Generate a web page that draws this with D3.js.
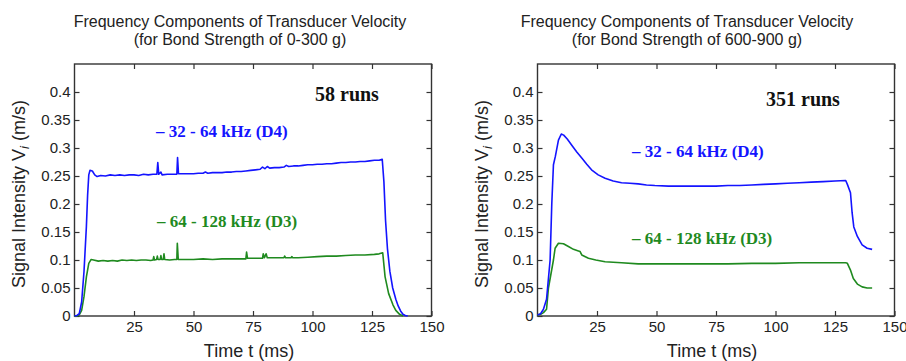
<!DOCTYPE html>
<html>
<head>
<meta charset="utf-8">
<script src="https://cdn.jsdelivr.net/npm/d3@7"></script>
<style>
  html, body { margin: 0; padding: 0; background: #fff; }
  svg { display: block; }
</style>
</head>
<body>
<div id="chart"></div>
<script>
// ---- data (t in ms, v in m/s) ----
const yTicks = [0, 0.05, 0.1, 0.15, 0.2, 0.25, 0.3, 0.35, 0.4];
const xTicks = [25, 50, 75, 100, 125, 150];

const titlesLeft = ["Frequency Components of Transducer Velocity", "(for Bond Strength of 0-300 g)"];
const titlesRight = ["Frequency Components of Transducer Velocity", "(for Bond Strength of 600-900 g)"];
const runsLabels = ["58 runs", "351 runs"];
const bandLabels = ["\u2013 32 - 64 kHz (D4)", "\u2013 64 - 128 kHz (D3)"];

// 0-300 g, 32-64 kHz (D4)
const leftD4 = [[0,0],[1,0.001],[2,0.004],[3,0.025],[4,0.08],[5,0.16],[5.5,0.215],[6,0.252],[6.5,0.26],[7.5,0.259],
  [8.5,0.252],[9.5,0.249],[11,0.251],[13,0.25],[15,0.252],[17,0.251],[19,0.252],[21,0.251],[23,0.252],[25,0.252],
  [27,0.251],[29,0.253],[31,0.252],[33,0.253],[34.6,0.253],[35,0.274],[35.4,0.253],[36.3,0.257],[36.8,0.252],[39,0.253],
  [41,0.253],[43,0.253],[43.3,0.283],[43.7,0.254],[46,0.254],[48,0.254],[50,0.254],[52,0.255],[54,0.255],[55,0.257],
  [56,0.255],[58,0.256],[60,0.256],[62,0.256],[64,0.257],[66,0.257],[68,0.258],[70,0.258],[72,0.259],[74,0.26],
  [76,0.261],[78,0.262],[79,0.266],[80,0.263],[81,0.267],[82,0.264],[84,0.265],[86,0.265],[88,0.266],[89,0.269],
  [90,0.267],[92,0.268],[94,0.268],[96,0.269],[98,0.27],[100,0.27],[102,0.271],[104,0.271],[106,0.272],[108,0.272],
  [110,0.273],[112,0.274],[114,0.274],[116,0.275],[118,0.275],[120,0.276],[122,0.276],[124,0.277],[126,0.278],
  [128,0.278],[129.3,0.28],[130,0.24],[130.7,0.17],[131.5,0.12],[132.5,0.08],[133.7,0.05],[135,0.03],[136,0.018],
  [137,0.009],[138,0.003],[139,0.001],[140,0]];

// 0-300 g, 64-128 kHz (D3)
const leftD3 = [[0,0],[1,0],[2,0.002],[3,0.01],[4,0.035],[5,0.07],[6,0.094],[7,0.101],[8,0.1],[10,0.098],
  [12,0.099],[14,0.098],[16,0.099],[18,0.098],[20,0.1],[22,0.099],[24,0.1],[26,0.099],[28,0.1],[30,0.1],
  [32,0.099],[33,0.1],[33.3,0.106],[33.6,0.1],[34.5,0.101],[34.8,0.107],[35.1,0.101],[36,0.101],[36.3,0.108],
  [36.6,0.101],[37.3,0.101],[37.6,0.111],[37.9,0.101],[40,0.1],[42,0.101],[43,0.101],[43.2,0.13],[43.6,0.101],
  [46,0.101],[50,0.101],[54,0.102],[58,0.101],[62,0.102],[66,0.102],[70,0.102],[72,0.102],[72.3,0.114],
  [72.7,0.103],[76,0.103],[79,0.103],[79.3,0.111],[79.8,0.104],[80.5,0.111],[81,0.104],[84,0.104],[88,0.104],
  [88.3,0.107],[88.7,0.104],[91,0.104],[91.3,0.106],[91.7,0.104],[94,0.104],[98,0.105],[102,0.106],[106,0.107],
  [110,0.107],[114,0.108],[118,0.109],[122,0.109],[126,0.11],[128,0.111],[129.5,0.113],[130.5,0.07],[132,0.04],
  [133.8,0.02],[135,0.01],[136.6,0.003],[138,0]];

// 600-900 g, 32-64 kHz (D4)
const rightD4 = [[0,0.002],[1.3,0.004],[2.5,0.012],[3.8,0.03],[5.3,0.1],[6,0.2],[6.7,0.27],[7.5,0.285],[8.8,0.314],
  [10,0.325],[11,0.323],[12.5,0.316],[14.4,0.305],[16.5,0.293],[18.6,0.282],[20.7,0.271],[22.7,0.261],[25.5,0.252],
  [28.4,0.246],[31.8,0.241],[35.3,0.238],[38.8,0.237],[42.3,0.236],[45.8,0.234],[49.3,0.233],[55,0.232],[60,0.232],
  [65,0.232],[70,0.232],[75,0.232],[80,0.233],[85,0.233],[90,0.234],[95,0.235],[100,0.236],[105,0.237],[110,0.238],
  [115,0.239],[120,0.24],[125,0.241],[129.5,0.242],[130.2,0.235],[131.5,0.22],[132.2,0.184],[132.9,0.159],
  [134.4,0.142],[136.4,0.127],[138.5,0.121],[140.6,0.119]];

// 600-900 g, 64-128 kHz (D3)
const rightD3 = [[0,0.002],[1.3,0.003],[2.5,0.006],[3.8,0.012],[4.6,0.05],[6.7,0.1],[7.4,0.121],[8.8,0.13],
  [10.9,0.129],[13,0.124],[15.1,0.119],[17.2,0.116],[17.9,0.115],[18.6,0.109],[21.4,0.103],[24.5,0.1],[28.4,0.097],
  [31.8,0.096],[35.3,0.095],[42.3,0.093],[49.3,0.093],[60,0.093],[70,0.093],[80,0.093],[90,0.094],[100,0.094],
  [110,0.095],[120,0.095],[129.5,0.095],[130.2,0.094],[131.5,0.082],[132.7,0.067],[134.4,0.057],[136.4,0.052],
  [138.5,0.05],[140.6,0.05]];

// ---- layout ----
const W = 906, H = 361;
const BLUE = "#1414ff", GREEN = "#1f8a1f";
const panels = [
  { left: 74.5, titleX: 240, titles: titlesLeft, runs: runsLabels[0], runsX: 315, runsY: 101,
    series: [leftD4, leftD3], labels: [[156, 137], [157, 227]] },
  { left: 537.5, titleX: 687, titles: titlesRight, runs: runsLabels[1], runsX: 766, runsY: 106,
    series: [rightD4, rightD3], labels: [[632, 157], [632, 244]] }
];
const plotW = 357, plotTop = 64, plotBottom = 316;

const svg = d3.select("#chart").append("svg")
  .attr("width", W)
  .attr("height", H)
  .style("font-family", "'Liberation Sans', Arial, sans-serif");

svg.append("rect").attr("width", W).attr("height", H).attr("fill", "#fff");

panels.forEach(p => {
  const x = d3.scaleLinear().domain([0, 150]).range([p.left, p.left + plotW]);
  const y = d3.scaleLinear().domain([0, 0.45]).range([plotBottom, plotTop]);
  const g = svg.append("g");

  // titles
  p.titles.forEach((t, i) => {
    g.append("text")
      .attr("x", p.titleX)
      .attr("y", 26.5 + i * 18)
      .attr("text-anchor", "middle")
      .style("font-size", "16px")
      .attr("fill", "#222")
      .text(t);
  });

  // axes, ticks pointing inward, mirrored on top/right
  const tickLen = 5;
  g.append("g")
    .attr("transform", `translate(0,${plotBottom})`)
    .call(d3.axisBottom(x).tickValues(xTicks).tickSizeInner(-tickLen).tickSizeOuter(0).tickPadding(5.5))
    .call(a => a.select(".domain").remove());
  g.append("g")
    .attr("transform", `translate(0,${plotTop})`)
    .call(d3.axisTop(x).tickValues(xTicks).tickSizeInner(-tickLen).tickSizeOuter(0).tickFormat(""))
    .call(a => a.select(".domain").remove());
  g.append("g")
    .attr("transform", `translate(${p.left},0)`)
    .call(d3.axisLeft(y).tickValues(yTicks).tickSizeInner(-tickLen).tickSizeOuter(0).tickPadding(4).tickFormat(d3.format("~g")))
    .call(a => a.select(".domain").remove());
  g.append("g")
    .attr("transform", `translate(${p.left + plotW},0)`)
    .call(d3.axisRight(y).tickValues(yTicks).tickSizeInner(-tickLen).tickSizeOuter(0).tickFormat(""))
    .call(a => a.select(".domain").remove());

  g.selectAll(".tick text")
    .style("font-size", "15px")
    .style("font-family", "'Liberation Sans', Arial, sans-serif")
    .attr("fill", "#222");
  g.selectAll(".tick line").attr("stroke", "#333").attr("stroke-width", 1.2);

  // frame
  g.append("rect")
    .attr("x", p.left)
    .attr("y", plotTop)
    .attr("width", plotW)
    .attr("height", plotBottom - plotTop)
    .attr("fill", "none")
    .attr("stroke", "#333")
    .attr("stroke-width", 1.4);

  // axis titles
  g.append("text")
    .attr("x", p.left + plotW / 2 - 4)
    .attr("y", 357)
    .attr("text-anchor", "middle")
    .style("font-size", "18px")
    .attr("fill", "#222")
    .text("Time t (ms)");

  const yl = g.append("text")
    .attr("transform", `translate(${p.left - 50},${(plotTop + plotBottom) / 2 + 4}) rotate(-90)`)
    .attr("text-anchor", "middle")
    .style("font-size", "18px")
    .attr("fill", "#222");
  yl.append("tspan").text("Signal Intensity V");
  yl.append("tspan").attr("font-style", "italic").attr("dy", 4).style("font-size", "13px").text("i");
  yl.append("tspan").attr("dy", -4).text(" (m/s)");

  // lines
  const line = d3.line().x(d => x(d[0])).y(d => y(d[1]));
  const colors = [BLUE, GREEN];
  // green first, blue on top
  [1, 0].forEach(i => {
    g.append("path")
      .datum(p.series[i])
      .attr("d", line)
      .attr("fill", "none")
      .attr("stroke", colors[i])
      .attr("stroke-width", 1.6)
      .attr("stroke-linejoin", "round");
  });

  // annotations
  g.append("text")
    .attr("x", p.runsX)
    .attr("y", p.runsY)
    .style("font-family", "'Liberation Serif', 'Times New Roman', serif")
    .style("font-weight", "bold")
    .style("font-size", "20px")
    .attr("fill", "#111")
    .text(p.runs);

  bandLabels.forEach((t, i) => {
    g.append("text")
      .attr("x", p.labels[i][0])
      .attr("y", p.labels[i][1])
      .style("font-family", "'Liberation Serif', 'Times New Roman', serif")
      .style("font-weight", "bold")
      .style("font-size", "17px")
      .attr("fill", colors[i])
      .text(t);
  });
});
</script>
</body>
</html>
